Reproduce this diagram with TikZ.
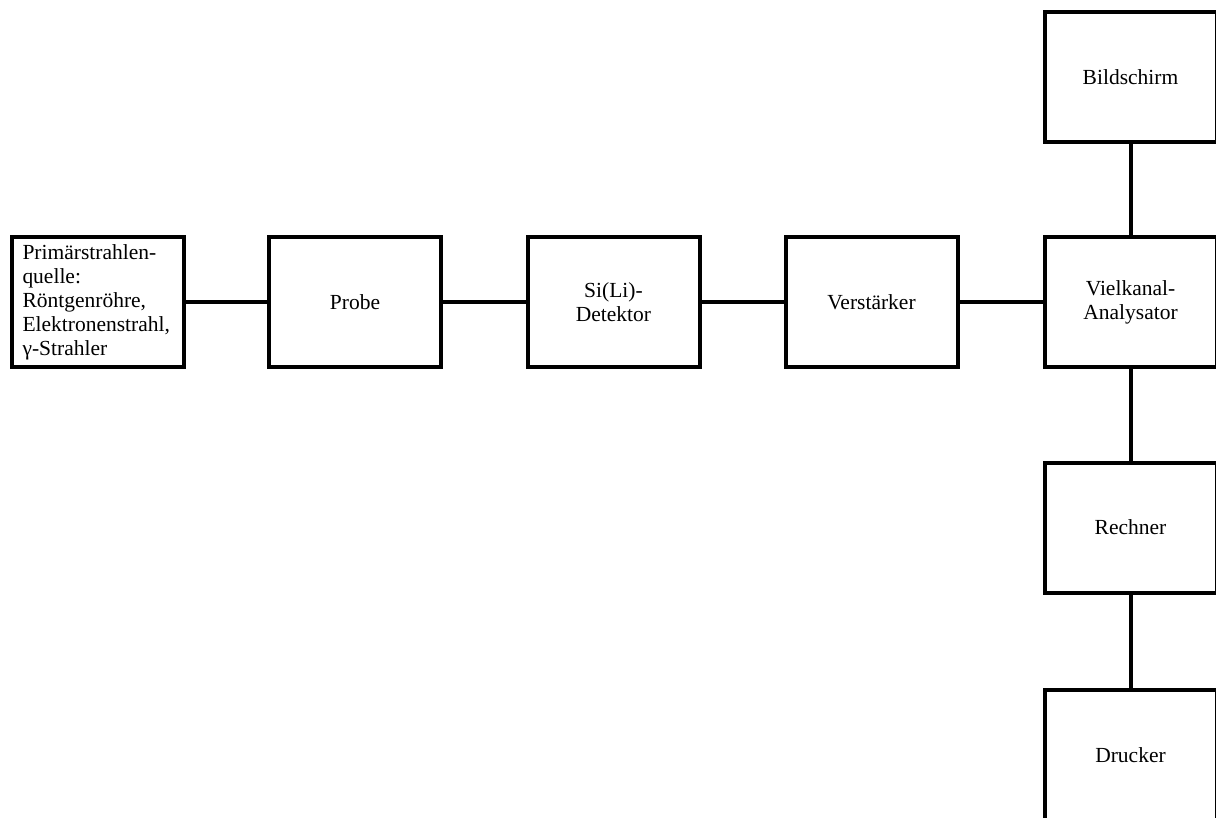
\documentclass[tikz,border=0pt]{standalone}
\usepackage{fontspec}
\setmainfont{Liberation Serif}
\begin{document}
\begin{tikzpicture}[x=1pt,y=-1pt,
  blk/.style={draw=black, line width=4pt, rectangle, minimum width=172pt, minimum height=130pt, inner sep=0pt,
    font=\fontsize{21.5}{24}\selectfont, align=center},
  conn/.style={line width=4pt, draw=black}]
\useasboundingbox (0,0) rectangle (1216,818);
\clip (0,0) rectangle (1216,818);
\node[blk, text width=151pt, align=left] (src) at (98,302.5) {Primärstrahlen-\\quelle:\\Röntgenröhre,\\Elektronenstrahl,\\γ-Strahler};
\node[blk] (probe) at (355,302.5) {Probe};
\node[blk] (det) at (613.5,302.5) {Si(Li)-\\Detektor};
\node[blk] (amp) at (871.5,302.5) {Verstärker};
\node[blk] (mca) at (1130.5,302.5) {Vielkanal-\\Analysator};
\node[blk] (scr) at (1130.5,77) {Bildschirm};
\node[blk] (cpu) at (1130.5,527.5) {Rechner};
\node[blk] (prn) at (1130.5,755) {Drucker};
\draw[conn] (src) -- (probe);
\draw[conn] (probe) -- (det);
\draw[conn] (det) -- (amp);
\draw[conn] (amp) -- (mca);
\draw[conn] (mca) -- (scr);
\draw[conn] (mca) -- (cpu);
\draw[conn] (cpu) -- (prn);
\end{tikzpicture}
\end{document}
